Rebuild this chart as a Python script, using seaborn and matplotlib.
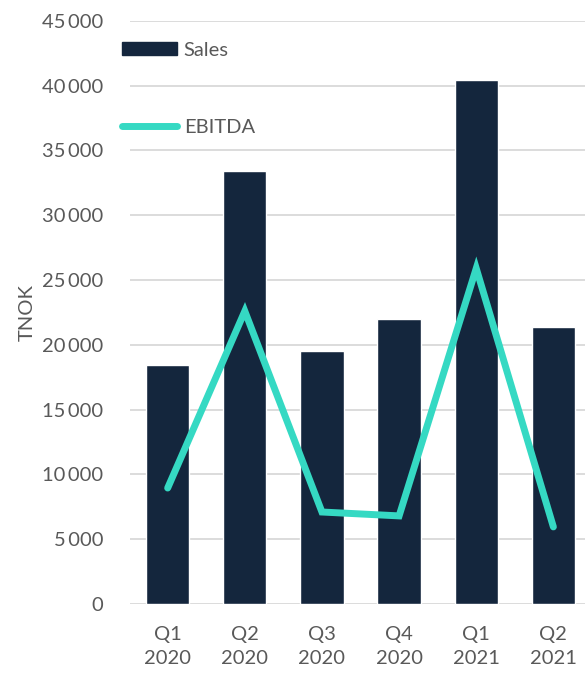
import matplotlib
matplotlib.use("Agg")
import matplotlib.pyplot as plt
import seaborn as sns
import pandas as pd
from matplotlib.patches import Patch
from matplotlib.lines import Line2D
from matplotlib.ticker import FuncFormatter, MultipleLocator

quarters = ["Q1\n2020", "Q2\n2020", "Q3\n2020", "Q4\n2020", "Q1\n2021", "Q2\n2021"]
sales = [18450, 33400, 19550, 22000, 40400, 21400]
ebitda = [8950, 22600, 7100, 6800, 25900, 5950]

NAVY = "#14263D"
TEAL = "#35D9C3"
GRAY = "#595959"
FS = 14.5

sns.set_theme(style="white")
plt.rcParams["font.family"] = ["Lato", "DejaVu Sans"]

df = pd.DataFrame({"quarter": quarters, "sales": sales, "ebitda": ebitda})

fig = plt.figure(figsize=(5.85, 6.73), dpi=100)
ax = fig.add_axes([0.222, 0.1025, 0.778, 0.8665])

sns.barplot(data=df, x="quarter", y="sales", color=NAVY, width=0.56,
            saturation=1, ax=ax, zorder=2)
sns.pointplot(data=df, x="quarter", y="ebitda", color=TEAL, markers="",
              linewidth=5, errorbar=None, ax=ax, zorder=3)
for l in ax.lines:
    l.set_solid_joinstyle("miter")
    l.set_solid_capstyle("round")

ax.set_ylim(0, 45000)
ax.set_xlim(-0.49, 5.41)
ax.yaxis.set_major_locator(MultipleLocator(5000))
ax.yaxis.set_major_formatter(FuncFormatter(lambda v, p: f"{int(v):,}".replace(",", "\u2009")))
ax.grid(axis="y", color="#D9D9D9", linewidth=1.3, zorder=0)
ax.set_axisbelow(True)
for s in ax.spines.values():
    s.set_visible(False)
ax.tick_params(axis="both", length=0, labelsize=FS, labelcolor=GRAY)
ax.tick_params(axis="y", pad=19)
ax.tick_params(axis="x", pad=16)
for t in ax.get_xticklabels():
    t.set_linespacing(1.45)
ax.set_xlabel("")
ax.set_ylabel("TNOK", fontsize=FS, color=GRAY, labelpad=5)

handles = [Patch(facecolor=NAVY, edgecolor=NAVY, label="Sales"),
           Line2D([0], [0], color=TEAL, linewidth=5, solid_capstyle="round", label="EBITDA")]
fig.legend(handles=handles, loc="upper left", bbox_to_anchor=(0.178, 0.965),
           frameon=False, fontsize=FS, labelcolor=GRAY, labelspacing=3.0,
           handlelength=2.7, handletextpad=0.35, handleheight=0.6)

fig.savefig("out.png", dpi=100, facecolor="white")
